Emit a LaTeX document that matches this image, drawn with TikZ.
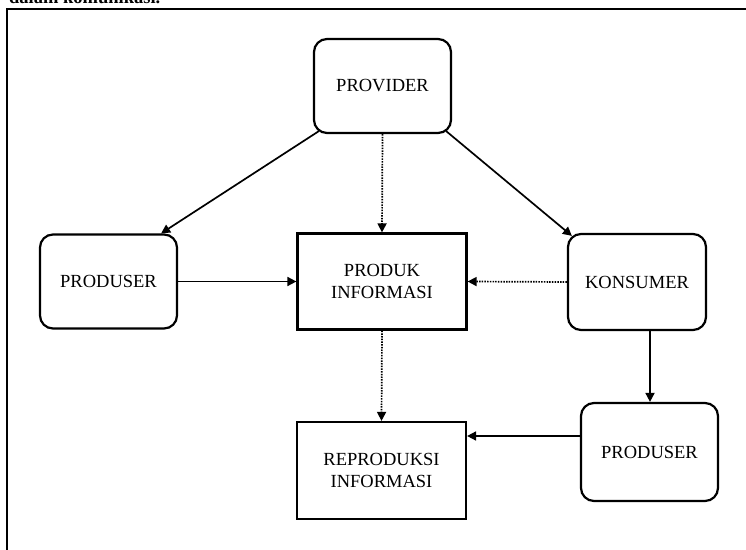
\documentclass[tikz,border=0pt]{standalone}
\usepackage{fontspec}
\setmainfont{Liberation Serif}
\usetikzlibrary{arrows.meta}
\begin{document}
\begin{tikzpicture}[x=1bp,y=-1bp,
  every node/.style={font=\fontsize{18.5bp}{22bp}\selectfont, align=center, inner sep=0pt},
  roundbox/.style={draw, line width=2.2bp, rounded corners=13bp},
  plainbox/.style={draw, line width=2.2bp},
  link/.style={line width=1.7bp, -{Triangle[length=9bp,width=9bp]}},
  dotlink/.style={link, dash pattern=on 1.5bp off 1.2bp},
]
\useasboundingbox (0,0) rectangle (746,550);

% caption line above the frame, cut by the page edge
\node[anchor=base west, font=\fontsize{18.5bp}{22bp}\selectfont\bfseries] (cap) at (9,4) {dalam komunikasi.};

% frame
\draw[line width=2.2bp] (7,550) -- (7,9) -- (746,9);

% boxes
\node[roundbox, minimum width=137bp, minimum height=94bp] (prov) at (382.5,86) {PROVIDER};
\node[roundbox, minimum width=137bp, minimum height=94bp] (pl) at (108.5,281.5) {PRODUSER};
\node[plainbox, minimum width=169bp, minimum height=96bp] (prod) at (382,281.5) {PRODUK\\INFORMASI};
\node[roundbox, minimum width=138bp, minimum height=96bp] (kon) at (637,282) {KONSUMER};
\node[plainbox, minimum width=169bp, minimum height=97bp] (rep) at (381.5,470.5) {REPRODUKSI\\INFORMASI};
\node[roundbox, minimum width=137bp, minimum height=98bp] (pr) at (649.5,452) {PRODUSER};

% connectors
\coordinate (prout) at ([yshift=16bp]pr.west);
\draw[link] ([xshift=6bp,yshift=3bp]prov.south west) -- ([xshift=-17bp]pl.north east);
\draw[link] ([xshift=-6bp,yshift=3bp]prov.south east) -- ([xshift=5bp,yshift=-3bp]kon.north west);
\draw[dotlink] (prov.south) -- (prod.north);
\draw[link] (pl.east) -- (prod.west);
\draw[dotlink] (kon.west) -- (prod.east);
\draw[dotlink] (prod.south) -- (rep.north);
\draw[link] ([xshift=13bp]kon.south) -- ([xshift=0.5bp]pr.north);
\draw[link] (prout) -- (rep.east |- prout);
\end{tikzpicture}
\end{document}
